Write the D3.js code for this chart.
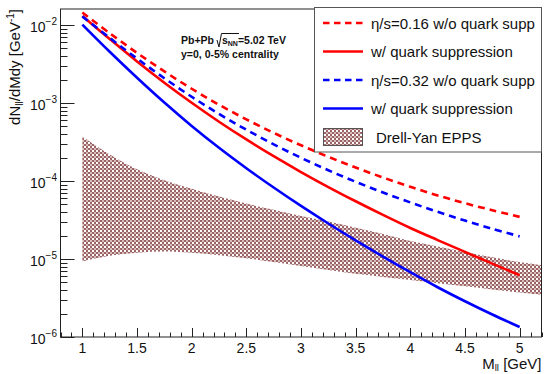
<!DOCTYPE html>
<html><head><meta charset="utf-8">
<script src="https://cdn.jsdelivr.net/npm/d3@7"></script>
<style>
html,body{margin:0;padding:0;background:#fff;}
svg{display:block;font-family:"Liberation Sans",Arial,sans-serif;}
</style></head>
<body>
<svg id="chart" width="545" height="374"></svg>
<script>
// ---- data ----
const mass = [1,1.25,1.5,1.75,2,2.25,2.5,2.75,3,3.25,3.5,3.75,4,4.25,4.5,4.75,5];
const eta016NoSupp = [1.445e-2,7.852e-3,4.390e-3,2.541e-3,1.522e-3,9.495e-4,6.166e-4,4.145e-4,2.868e-4,2.042e-4,1.488e-4,1.109e-4,8.414e-5,6.531e-5,5.188e-5,4.217e-5,3.467e-5];
const eta016Supp   = [1.303e-2,6.607e-3,3.408e-3,1.820e-3,1.006e-3,5.754e-4,3.408e-4,2.077e-4,1.303e-4,8.365e-5,5.495e-5,3.673e-5,2.497e-5,1.748e-5,1.232e-5,8.719e-6,6.200e-6];
const eta032NoSupp = [1.288e-2,6.839e-3,3.715e-3,2.077e-3,1.202e-3,7.244e-4,4.545e-4,2.951e-4,1.984e-4,1.373e-4,9.772e-5,7.120e-5,5.309e-5,4.027e-5,3.108e-5,2.440e-5,1.950e-5];
const eta032Supp   = [1.012e-2,4.539e-3,2.109e-3,1.014e-3,5.082e-4,2.667e-4,1.459e-4,8.241e-5,4.786e-5,2.851e-5,1.734e-5,1.074e-5,6.776e-6,4.345e-6,2.871e-6,1.941e-6,1.343e-6];
const bandMass  = [1,1.25,1.5,1.75,2,2.25,2.5,2.75,3,3.25,3.5,3.75,4,4.25,4.5,4.75,5,5.2];
const dyUpper   = [3.72e-4,2.19e-4,1.41e-4,1.02e-4,7.94e-5,6.31e-5,5.13e-5,4.27e-5,3.55e-5,3.02e-5,2.51e-5,2.09e-5,1.70e-5,1.45e-5,1.23e-5,1.05e-5,9.12e-6,8.32e-6];
const dyLower   = [9.33e-6,1.10e-5,1.20e-5,1.245e-5,1.20e-5,1.12e-5,1.02e-5,9.12e-6,8.13e-6,7.24e-6,6.46e-6,5.89e-6,5.37e-6,4.90e-6,4.47e-6,4.07e-6,3.72e-6,3.47e-6];
const xTickLabels = ["1","1.5","2","2.5","3","3.5","4","4.5","5"];
const yTickExps = [-6,-5,-4,-3,-2];
const legendLabels = ["\u03b7/s=0.16 w/o quark supp","w/ quark suppression","\u03b7/s=0.32 w/o quark supp","w/ quark suppression","Drell-Yan EPPS"];

// ---- layout ----
const L = 60.5, R = 541.5, T = 9, B = 337;
const svg = d3.select("#chart");
const x = d3.scaleLinear().domain([0.8, 5.2]).range([L, R]);
const y = d3.scaleLog().domain([1e-6, Math.pow(10, -1.795)]).range([B, T]);

const defs = svg.append("defs");
const pat = defs.append("pattern").attr("id","hatch").attr("patternUnits","userSpaceOnUse")
  .attr("width",4).attr("height",4);
pat.append("rect").attr("width",4).attr("height",4).attr("fill","#ffffff");
pat.append("rect").attr("x",0).attr("y",0).attr("width",2).attr("height",2).attr("fill","#9c6464");
pat.append("rect").attr("x",2).attr("y",2).attr("width",2).attr("height",2).attr("fill","#9c6464");
pat.append("rect").attr("x",2).attr("y",0).attr("width",2).attr("height",2).attr("fill","#d7baba");
defs.append("clipPath").attr("id","clip").append("rect").attr("x",L).attr("y",T).attr("width",R-L).attr("height",B-T);

const plot = svg.append("g").attr("clip-path","url(#clip)");

// band
const band = bandMass.map((m,i)=>({m, lo:dyLower[i], hi:dyUpper[i]}));
plot.append("path").datum(band)
  .attr("d", d3.area().x(d=>x(d.m)).y0(d=>y(d.lo)).y1(d=>y(d.hi)).curve(d3.curveCatmullRom))
  .attr("fill","url(#hatch)");

const series = [
  {vals:eta016NoSupp, color:"#ff0000", dash:"7,5"},
  {vals:eta016Supp,   color:"#ff0000", dash:null},
  {vals:eta032NoSupp, color:"#0000ff", dash:"7,5"},
  {vals:eta032Supp,   color:"#0000ff", dash:null}
];
const line = d3.line().x(d=>x(d[0])).y(d=>y(d[1])).curve(d3.curveCatmullRom);
series.forEach(s=>{
  plot.append("path").datum(mass.map((m,i)=>[m,s.vals[i]]))
    .attr("d", line).attr("fill","none").attr("stroke",s.color)
    .attr("stroke-width",2.6).attr("stroke-dasharray",s.dash);
});

// frame
svg.append("rect").attr("x",L).attr("y",T).attr("width",R-L).attr("height",B-T)
  .attr("fill","none").attr("stroke","#222").attr("stroke-width",1);

// x axis ticks (inward)
const xg = svg.append("g").attr("stroke","#222").attr("stroke-width",1);
for (let i=8;i<=52;i++){
  const v=i/10, px=Math.round(x(v))+0.5;
  const major = (i%5===0);
  xg.append("line").attr("x1",px).attr("x2",px).attr("y1",B).attr("y2",B-(major?9:4.5));
}
xTickLabels.forEach(t=>{
  svg.append("text").attr("x",x(+t)).attr("y",353).attr("text-anchor","middle")
    .attr("font-size",14).attr("fill","#111").text(t);
});
// x title
const xt = svg.append("text").attr("x",R).attr("y",369).attr("text-anchor","end")
  .attr("font-size",15).attr("fill","#111");
xt.append("tspan").text("M");
xt.append("tspan").attr("font-size",9.5).attr("dy",2).text("ll");
xt.append("tspan").attr("dy",-2).text(" [GeV]");

// y axis ticks (inward)
const yg = svg.append("g").attr("stroke","#222").attr("stroke-width",1);
for (let e=-6;e<=-2;e++){
  for (let k=1;k<=9;k++){
    const v=k*Math.pow(10,e);
    if (v>y.domain()[1]) continue;
    const py=Math.round(y(v))+0.5;
    yg.append("line").attr("x1",L).attr("x2",L+(k===1?14:7)).attr("y1",py).attr("y2",py);
  }
}
yTickExps.forEach(e=>{
  const t = svg.append("text").attr("x",57).attr("y",y(Math.pow(10,e))+7).attr("text-anchor","end")
    .attr("font-size",14).attr("fill","#111");
  t.append("tspan").text("10");
  t.append("tspan").attr("font-size",10).attr("dy",-7).text("\u2212"+Math.abs(e));
});
// y title
const yt = svg.append("text").attr("transform","translate(20,9) rotate(-90)")
  .attr("text-anchor","end").attr("font-size",15).attr("fill","#111");
yt.append("tspan").text("dN");
yt.append("tspan").attr("font-size",10).attr("dy",3).text("ll");
yt.append("tspan").attr("dy",-3).text("/dMdy [GeV");
yt.append("tspan").attr("font-size",10).attr("dy",-6).text("-1");
yt.append("tspan").attr("dy",6).text("]");

// annotation
const ag = svg.append("g").attr("font-size",10.5).attr("font-weight","bold").attr("fill","#111");
const a1 = ag.append("text").attr("x",181).attr("y",44).text("Pb+Pb");
const w1 = a1.node().getComputedTextLength();
const rx = 181 + w1 + 3;
const a2 = ag.append("text").attr("x",rx+5).attr("y",44);
a2.append("tspan").text("s");
a2.append("tspan").attr("font-size",7).attr("dy",1.5).text("NN");
a2.append("tspan").attr("dy",-1.5).text("=5.02 TeV");
const sw = (()=>{ const tmp=ag.append("text").attr("x",0).attr("y",-50); tmp.append("tspan").text("s"); tmp.append("tspan").attr("font-size",7).text("NN"); const w=tmp.node().getComputedTextLength(); tmp.remove(); return w;})();
ag.append("path").attr("d",`M${rx},40 L${rx+2},47 L${rx+4.5},33.5 L${rx+5+sw+1},33.5`)
  .attr("fill","none").attr("stroke","#111").attr("stroke-width",1);
ag.append("text").attr("x",181).attr("y",57.5).text("y=0, 0-5% centrality");

// legend
const lg = svg.append("g");
lg.append("rect").attr("x",314.5).attr("y",7.5).attr("width",227).attr("height",144.5)
  .attr("fill","#fff").attr("stroke","#555").attr("stroke-width",1);
const rowsY = [23,51.5,80,108.5,137];
series.forEach((s,i)=>{
  lg.append("line").attr("x1",323).attr("x2",363).attr("y1",rowsY[i]).attr("y2",rowsY[i])
    .attr("stroke",s.color).attr("stroke-width",2.6).attr("stroke-dasharray",s.dash?"6.5,4.5":null);
  lg.append("text").attr("x",371).attr("y",rowsY[i]+5.5).attr("font-size",15).attr("fill","#111").text(legendLabels[i]);
});
lg.append("rect").attr("x",323.5).attr("y",128.5).attr("width",39).attr("height",17)
  .attr("fill","url(#hatch)").attr("stroke","#555").attr("stroke-width",1);
lg.append("text").attr("x",376).attr("y",rowsY[4]+5.5).attr("font-size",15).attr("fill","#111").text(legendLabels[4]);
</script>
</body></html>
